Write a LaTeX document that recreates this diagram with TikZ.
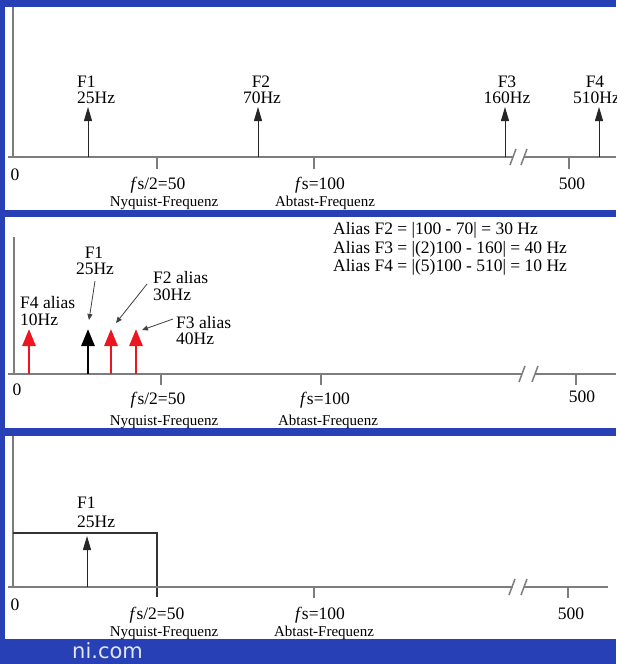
\documentclass[tikz,border=0pt]{standalone}
\usepackage{fontspec}
\setmainfont{Liberation Serif}
\newfontfamily\sitefont{DejaVu Sans}
\usetikzlibrary{arrows.meta}
\definecolor{bgblue}{RGB}{40,64,182}
\definecolor{axisgray}{RGB}{125,125,125}
\definecolor{specred}{RGB}{236,22,32}
\definecolor{nitext}{RGB}{226,229,242}
\begin{document}
\begin{tikzpicture}[x=1pt,y=-1pt,
  axisline/.style={draw=axisgray,line width=1.5pt},
  tickline/.style={draw=axisgray,line width=1.2pt},
  specline/.style={draw=black!85,line width=1pt,-{Triangle[width=8pt,length=14pt]}},
  redspec/.style={draw=specred,line width=2.8pt,-{Triangle[width=13pt,length=17pt]}},
  blackspec/.style={draw=black,line width=2.8pt,-{Triangle[width=13pt,length=17pt]}},
  pointer/.style={draw=black!75,line width=0.8pt,-{Triangle[width=5pt,length=6pt]}},
  lbl/.style={inner sep=0pt,font=\fontsize{17.5}{20}\selectfont},
  sublbl/.style={inner sep=0pt,font=\fontsize{15}{18}\selectfont},
  panel/.style={fill=white,draw=none}]
\useasboundingbox (0,0) rectangle (616,664);
\fill[bgblue] (0,0) rectangle (616,664);
% ---------------- Panel 1 ----------------
\fill[white] (5,7) rectangle (616,210);
\draw[axisline] (13,7) -- (13,157);
\draw[axisline] (8,157) -- (513,157);
\draw[axisline] (524,157) -- (616,157);
\draw[axisline] (510,165) -- (516,149);
\draw[axisline] (521,165) -- (527,149);
\draw[tickline] (157,157) -- (157,169);
\draw[tickline] (314,157) -- (314,169);
\draw[tickline] (569,157) -- (569,169);
\coordinate (a1b) at (88,157);  \coordinate (a1t) at (88,107);
\coordinate (a2b) at (258,157); \coordinate (a2t) at (258,107);
\coordinate (a3b) at (505,157); \coordinate (a3t) at (505,107);
\coordinate (a4b) at (599,157); \coordinate (a4t) at (599,107);
\draw[specline] (a1b) -- (a1t);
\draw[specline] (a2b) -- (a2t);
\draw[specline] (a3b) -- (a3t);
\draw[specline] (a4b) -- (a4t);
\node[lbl,anchor=base west] (p1f1) at (77,87) {F1};
\node[lbl,anchor=base west] (p1f1h) at (77,103) {25Hz};
\node[lbl,anchor=base] (p1f2) at (261,87) {F2};
\node[lbl,anchor=base] (p1f2h) at (262,103) {70Hz};
\node[lbl,anchor=base] (p1f3) at (507,87) {F3};
\node[lbl,anchor=base] (p1f3h) at (507,103) {160Hz};
\node[lbl,anchor=base] (p1f4) at (595,87) {F4};
\node[lbl,anchor=base west] (p1f4h) at (573,103) {510Hz};
\node[lbl,anchor=base] (p1zero) at (15,180) {0};
\node[lbl,anchor=base] (p1ny) at (158,189) {\textit{f}s/2=50};
\node[sublbl,anchor=base] (p1nyt) at (164,206) {Nyquist-Frequenz};
\node[lbl,anchor=base] (p1fs) at (320,189) {\textit{f}s=100};
\node[sublbl,anchor=base] (p1fst) at (325,206) {Abtast-Frequenz};
\node[lbl,anchor=base] (p1five) at (572,189) {500};
% ---------------- Panel 2 ----------------
\fill[white] (5,217) rectangle (616,428);
\draw[axisline] (14,237) -- (14,374);
\draw[axisline] (8,374) -- (522,374);
\draw[axisline] (535,374) -- (616,374);
\draw[axisline] (519,382) -- (525,366);
\draw[axisline] (532,382) -- (538,366);
\draw[tickline] (161,374) -- (161,385);
\draw[tickline] (321,374) -- (321,385);
\draw[tickline] (576,374) -- (576,385);
\coordinate (r4b) at (29,374);  \coordinate (r4t) at (29,329);
\coordinate (k1b) at (88,374);  \coordinate (k1t) at (88,329);
\coordinate (r2b) at (111,374); \coordinate (r2t) at (111,329);
\coordinate (r3b) at (136,374); \coordinate (r3t) at (136,329);
\draw[redspec] (r4b) -- (r4t);
\draw[blackspec] (k1b) -- (k1t);
\draw[redspec] (r2b) -- (r2t);
\draw[redspec] (r3b) -- (r3t);
\node[lbl,anchor=base] (p2f1) at (94,258) {F1};
\node[lbl,anchor=base] (p2f1h) at (95,274) {25Hz};
\node[lbl,anchor=base west] (p2f2) at (153,283) {F2 alias};
\node[lbl,anchor=base west] (p2f2h) at (153,300) {30Hz};
\node[lbl,anchor=base west] (p2f4) at (20,308) {F4 alias};
\node[lbl,anchor=base west] (p2f4h) at (20,325) {10Hz};
\node[lbl,anchor=base west] (p2f3) at (176,328) {F3 alias};
\node[lbl,anchor=base west] (p2f3h) at (176,344) {40Hz};
\coordinate (q1s) at (95,281);  \coordinate (q1e) at (89,320);
\coordinate (q2s) at (147,284); \coordinate (q2e) at (116,323);
\coordinate (q3s) at (173,319); \coordinate (q3e) at (142,330);
\draw[pointer] (q1s) -- (q1e);
\draw[pointer] (q2s) -- (q2e);
\draw[pointer] (q3s) -- (q3e);
\node[lbl,anchor=base west] (eq1) at (333,234) {Alias F2 = |100 - 70| = 30 Hz};
\node[lbl,anchor=base west] (eq2) at (333,253) {Alias F3 = |(2)100 - 160| = 40 Hz};
\node[lbl,anchor=base west] (eq3) at (333,271) {Alias F4 = |(5)100 - 510| = 10 Hz};
\node[lbl,anchor=base] (p2zero) at (17,395) {0};
\node[lbl,anchor=base] (p2ny) at (158,404) {\textit{f}s/2=50};
\node[sublbl,anchor=base] (p2nyt) at (164,425) {Nyquist-Frequenz};
\node[lbl,anchor=base] (p2fs) at (325,404) {\textit{f}s=100};
\node[sublbl,anchor=base] (p2fst) at (328,425) {Abtast-Frequenz};
\node[lbl,anchor=base] (p2five) at (582,402) {500};
% ---------------- Panel 3 ----------------
\fill[white] (5,436) rectangle (616,639);
\draw[axisline] (13,436) -- (13,587);
\draw[draw=black!80,line width=1.2pt] (13,533) -- (157,533) -- (157,597);
\draw[axisline] (8,587) -- (513,587);
\draw[axisline] (524,587) -- (608,587);
\draw[axisline] (509,595) -- (515,579);
\draw[axisline] (521,595) -- (527,579);
\draw[tickline] (314,587) -- (314,598);
\draw[tickline] (568,587) -- (568,598);
\coordinate (c1b) at (87,587); \coordinate (c1t) at (87,536);
\draw[specline] (c1b) -- (c1t);
\node[lbl,anchor=base west] (p3f1) at (77,508) {F1};
\node[lbl,anchor=base west] (p3f1h) at (77,527) {25Hz};
\node[lbl,anchor=base] (p3zero) at (15,610) {0};
\node[lbl,anchor=base] (p3ny) at (157,619) {\textit{f}s/2=50};
\node[sublbl,anchor=base] (p3nyt) at (164,636) {Nyquist-Frequenz};
\node[lbl,anchor=base] (p3fs) at (320,619) {\textit{f}s=100};
\node[sublbl,anchor=base] (p3fst) at (324,636) {Abtast-Frequenz};
\node[lbl,anchor=base] (p3five) at (571,619) {500};
\node[inner sep=0pt,anchor=base west,text=nitext,font=\sitefont\fontsize{21}{24}\selectfont] (site) at (72,658) {ni.com};
\end{tikzpicture}
\end{document}
